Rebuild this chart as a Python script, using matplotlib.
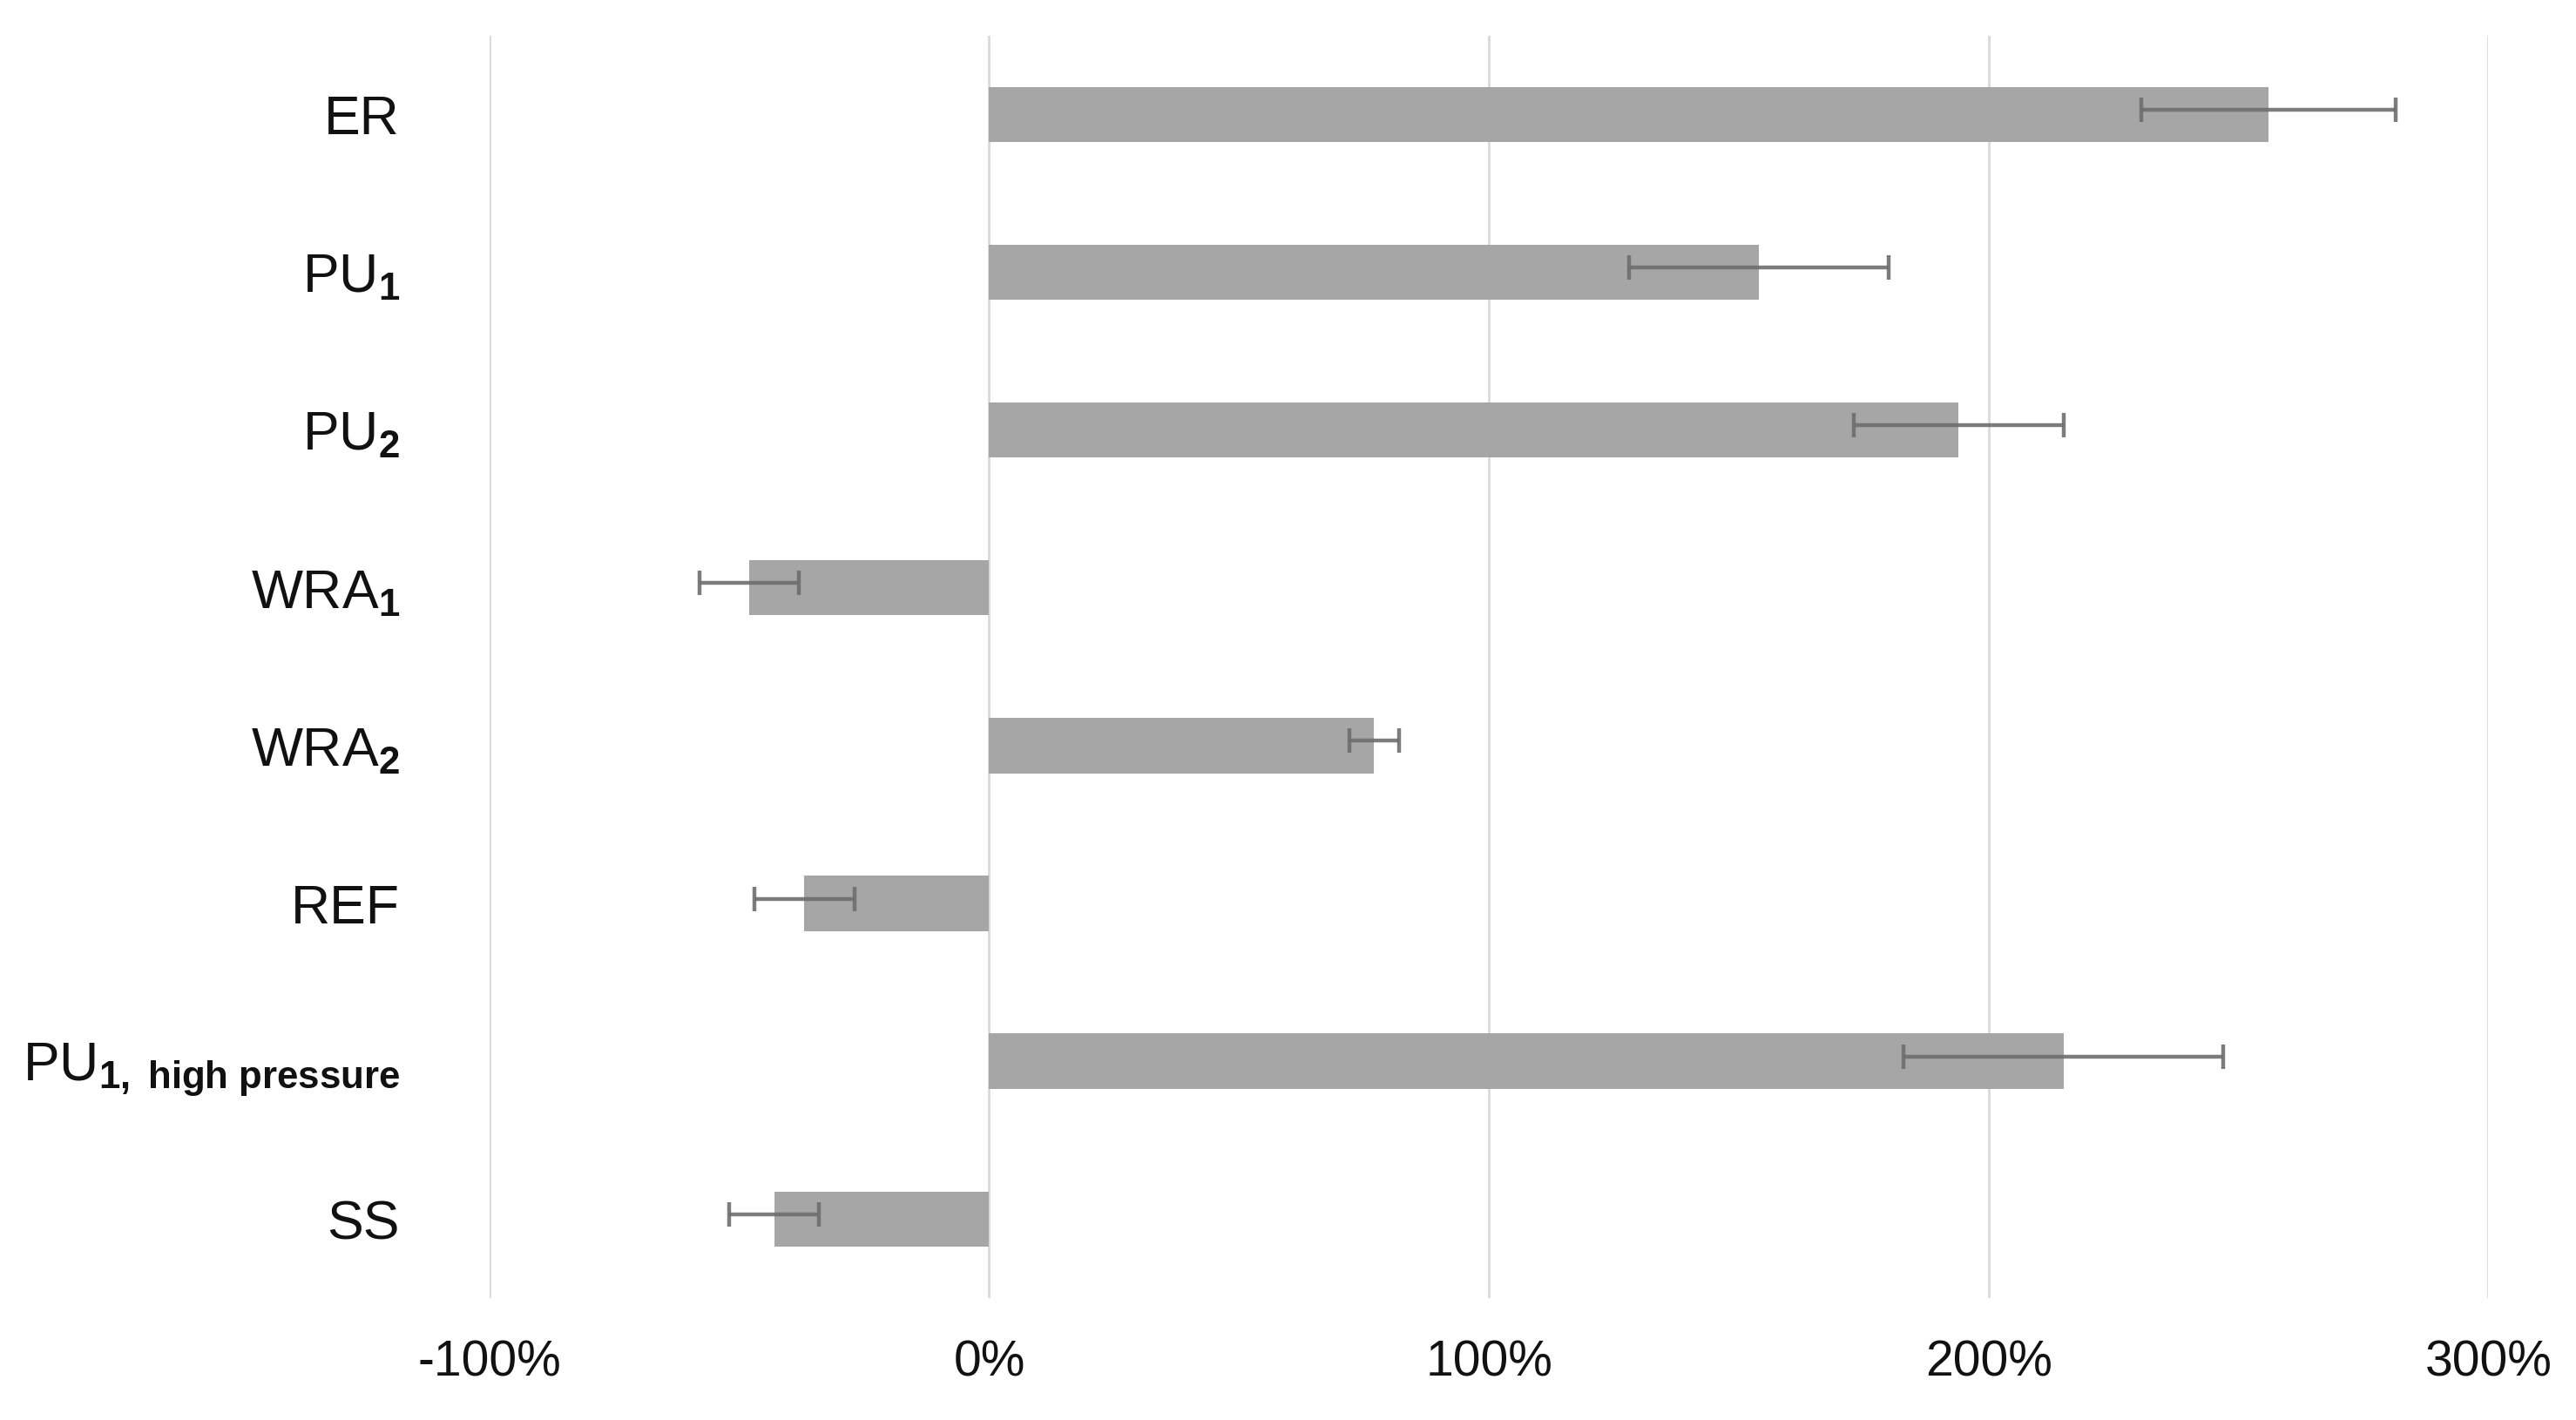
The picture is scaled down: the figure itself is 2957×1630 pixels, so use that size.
import matplotlib
matplotlib.use("Agg")
import matplotlib.pyplot as plt
from matplotlib.ticker import FuncFormatter

categories = [r"ER", r"PU$_{\mathbf{1}}$", r"PU$_{\mathbf{2}}$", r"WRA$_{\mathbf{1}}$",
              r"WRA$_{\mathbf{2}}$", r"REF", r"PU$_{\mathbf{1,\ high\ pressure}}$", r"SS"]
values = [256, 154, 194, -48, 77, -37, 215, -43]
errors = [25.5, 26, 21, 10, 5, 10, 32, 9]
xticks = [-100, 0, 100, 200, 300]

plt.rcParams['font.family'] = ['Liberation Sans', 'DejaVu Sans']
plt.rcParams['mathtext.fontset'] = 'custom'
plt.rcParams['mathtext.rm'] = 'Liberation Sans'
plt.rcParams['mathtext.it'] = 'Liberation Sans'
plt.rcParams['mathtext.bf'] = 'Liberation Sans:bold'

fig = plt.figure(figsize=(29.57, 16.30), dpi=100)
ax = fig.add_axes([0.190, 0.086, 0.776, 0.889])

y = list(range(len(categories)))
ax.barh(y, values, height=0.35, color='#a6a6a6', zorder=2)
ax.errorbar(values, [v - 0.03 for v in y], xerr=errors, fmt='none', ecolor='#6e6e6e',
            elinewidth=3.2, capsize=10, capthick=3.2, alpha=0.9, zorder=3)

ax.set_xlim(-100, 300)
ax.set_ylim(len(categories) - 0.5, -0.5)
ax.set_xticks(xticks)
ax.xaxis.set_major_formatter(FuncFormatter(lambda v, p: f"{int(v)}%"))
ax.set_yticks(y)
ax.set_yticklabels(categories)
ax.tick_params(axis='y', labelsize=45, length=0, pad=74, labelcolor='#111111')
ax.tick_params(axis='x', labelsize=41, length=0, pad=34, labelcolor='#111111')
ax.grid(axis='x', color='#d9d9d9', linewidth=2, zorder=0)
ax.set_axisbelow(True)
for s in ax.spines.values():
    s.set_visible(False)

fig.savefig('out.png', dpi=100, facecolor='white')
